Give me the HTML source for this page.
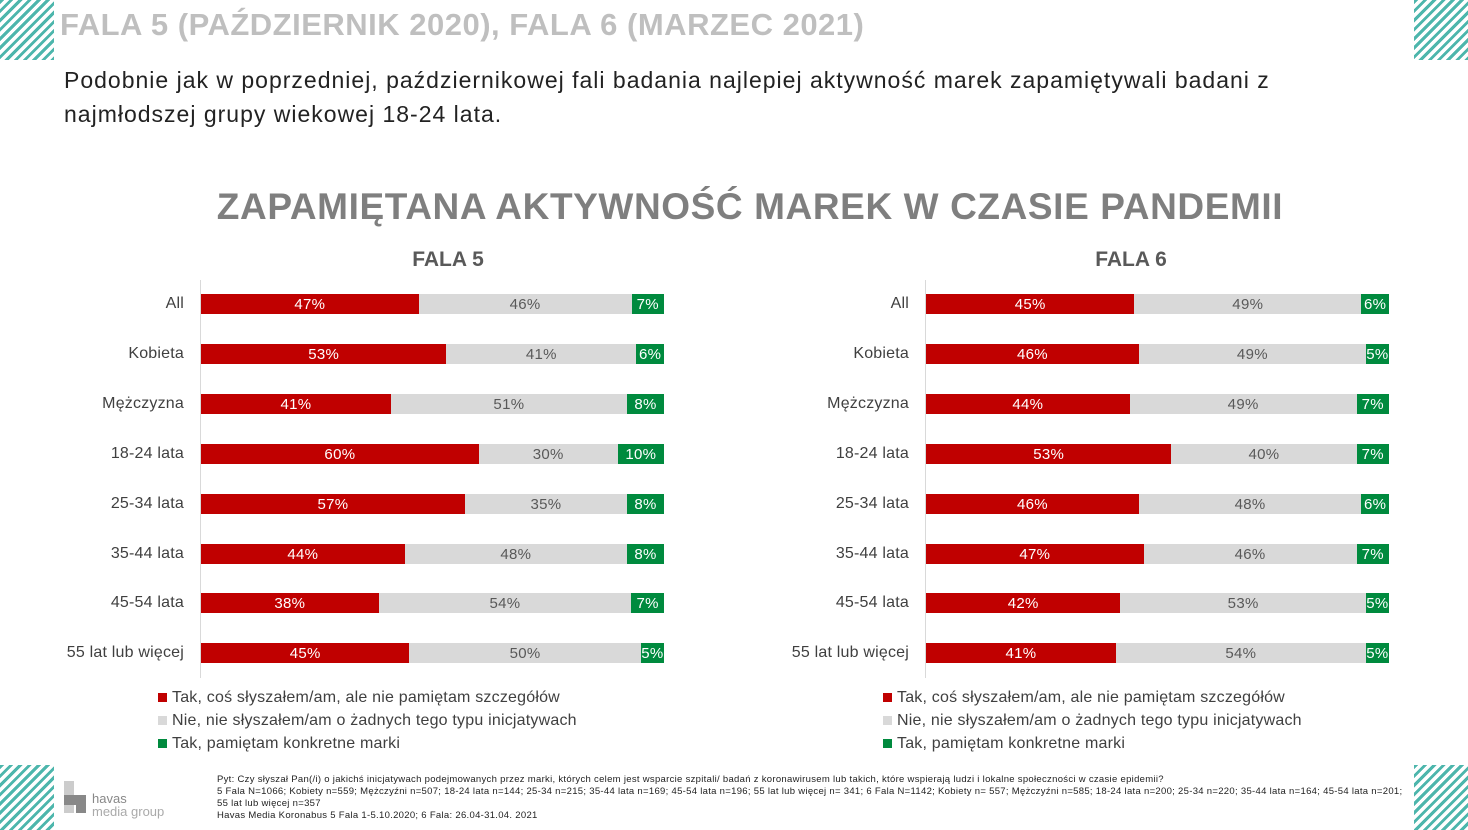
<!DOCTYPE html>
<html><head><meta charset="utf-8"><style>
body{margin:0;width:1468px;height:830px;position:relative;background:#fff;font-family:"Liberation Sans","DejaVu Sans",sans-serif;overflow:hidden}
.st{position:absolute;width:54px;background:repeating-linear-gradient(135deg,#4db6ac 0 3px,#fff 3px 6.5px)}
.a{position:absolute;white-space:nowrap}
.lab{position:absolute;font-size:16px;color:#404040;text-align:right;width:180px;letter-spacing:0.2px}
.bar{position:absolute;height:20px;display:flex}
.bar div{height:20px;line-height:21px;text-align:center;font-size:15px;letter-spacing:0.3px}
.r{background:#c00000;color:#fff}.g{background:#d9d9d9;color:#595959}.gr{background:#008a3e;color:#fff}
.axis{position:absolute;width:1px;background:#d9d9d9;top:280px;height:398px}
.lg{position:absolute;font-size:16px;color:#404040;letter-spacing:0.2px}
.lg span{display:inline-block;width:9px;height:9px;margin-right:5px}
.fn{position:absolute;left:217px;top:774px;font-size:9.5px;line-height:12px;color:#222;width:1200px;letter-spacing:0.3px}
</style></head><body>
<div class="st" style="left:0;top:0;height:60px"></div>
<div class="st" style="left:1414px;top:0;height:60px"></div>
<div class="st" style="left:0;top:765px;height:65px"></div>
<div class="st" style="left:1414px;top:765px;height:65px"></div>
<div class="a" style="left:60px;top:7px;font-size:31px;font-weight:bold;color:#bfbfbf;letter-spacing:0.5px">FALA 5 (PAŹDZIERNIK 2020), FALA 6 (MARZEC 2021)</div>
<div class="a" style="left:64px;top:63px;font-size:23px;line-height:34px;color:#222;letter-spacing:1px">Podobnie jak w poprzedniej, październikowej fali badania najlepiej aktywność marek zapamiętywali badani z<br>najmłodszej grupy wiekowej 18-24 lata.</div>
<div class="a" style="left:0;width:1500px;text-align:center;top:186px;font-size:37px;font-weight:bold;color:#7f7f7f;letter-spacing:0.6px">ZAPAMIĘTANA AKTYWNOŚĆ MAREK W CZASIE PANDEMII</div>
<div class="a" style="left:348px;width:200px;text-align:center;top:248px;font-size:21px;font-weight:bold;color:#595959">FALA 5</div>
<div class="a" style="left:1031px;width:200px;text-align:center;top:248px;font-size:21px;font-weight:bold;color:#595959">FALA 6</div>
<div class="axis" style="left:200px"></div><div class="axis" style="left:925px"></div>
<div id="c"></div>
<div class="fn">Pyt: Czy słyszał Pan(/i) o jakichś inicjatywach podejmowanych przez marki, których celem jest wsparcie szpitali/ badań z koronawirusem lub takich, które wspierają ludzi i lokalne społeczności w czasie epidemii?<br>5 Fala N=1066; Kobiety n=559; Mężczyźni n=507; 18-24 lata n=144; 25-34 n=215; 35-44 lata n=169; 45-54 lata n=196; 55 lat lub więcej n= 341; 6 Fala N=1142; Kobiety n= 557; Mężczyźni n=585; 18-24 lata n=200; 25-34 n=220; 35-44 lata n=164; 45-54 lata n=201;<br>55 lat lub więcej n=357<br>Havas Media Koronabus 5 Fala 1-5.10.2020; 6 Fala: 26.04-31.04. 2021</div>
<div class="a" style="left:64px;top:781px;width:10px;height:32px;background:#ccc"></div>
<div class="a" style="left:64px;top:795px;width:22px;height:10px;background:#888"></div>
<div class="a" style="left:76px;top:795px;width:10px;height:18px;background:#888"></div>
<div class="a" style="left:92px;top:792px;font-size:13px;line-height:13px;color:#888">havas<br><span style="color:#aaa">media group</span></div>
<script>
var L=["All","Kobieta","Mężczyzna","18-24 lata","25-34 lata","35-44 lata","45-54 lata","55 lat lub więcej"];
var A=[[47,46,7],[53,41,6],[41,51,8],[60,30,10],[57,35,8],[44,48,8],[38,54,7],[45,50,5]];
var B=[[45,49,6],[46,49,5],[44,49,7],[53,40,7],[46,48,6],[47,46,7],[42,53,5],[41,54,5]];
var Y=[294,344,394,444,494,544,593,643];var h="";
function ch(x,D){for(var i=0;i<8;i++){var d=D[i],s=d[0]+d[1]+d[2];
h+='<div class="lab" style="left:'+(x-197)+'px;top:'+(Y[i]+1)+'px">'+L[i]+'</div>';
h+='<div class="bar" style="left:'+x+'px;top:'+Y[i]+'px;width:463px">';
["r","g","gr"].forEach(function(c,j){h+='<div class="'+c+'" style="width:'+(463*d[j]/s)+'px">'+d[j]+'%</div>'});h+='</div>';}
var lg=[["#c00000","Tak, coś słyszałem/am, ale nie pamiętam szczegółów"],["#d9d9d9","Nie, nie słyszałem/am o żadnych tego typu inicjatywach"],["#008a3e","Tak, pamiętam konkretne marki"]];
lg.forEach(function(l,k){h+='<div class="lg" style="left:'+(x-43)+'px;top:'+(689+23*k)+'px"><span style="background:'+l[0]+'"></span>'+l[1]+'</div>'});}
ch(201,A);ch(926,B);document.getElementById("c").innerHTML=h;
</script>
</body></html>
